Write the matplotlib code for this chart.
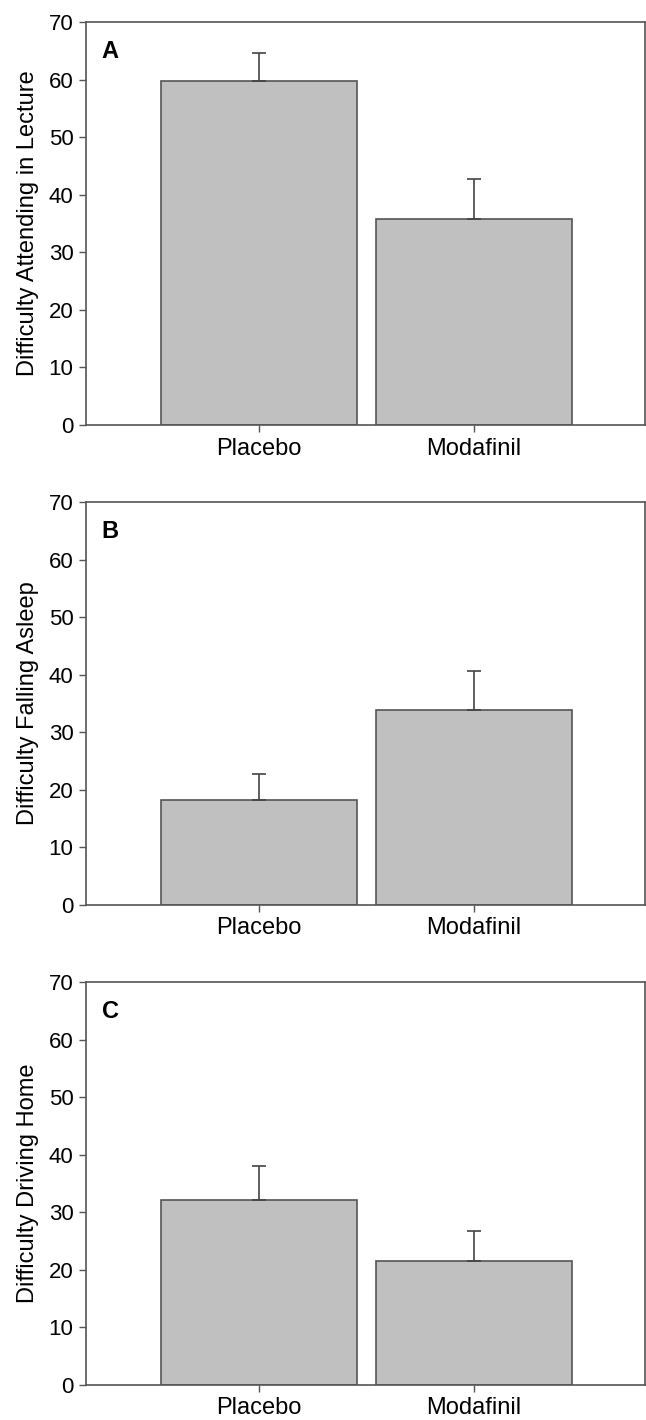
import matplotlib.pyplot as plt

plt.rcParams['font.family'] = ['Liberation Sans', 'DejaVu Sans']

groups = ['Placebo', 'Modafinil']
panel_letters = ['A', 'B', 'C']
ylabels = ['Difficulty Attending in Lecture', 'Difficulty Falling Asleep', 'Difficulty Driving Home']
means_a = [59.7, 35.8]
errs_a = [5.0, 6.9]
means_b = [18.2, 33.8]
errs_b = [4.6, 6.8]
means_c = [32.1, 21.6]
errs_c = [5.9, 5.1]

all_means = [means_a, means_b, means_c]
all_errs = [errs_a, errs_b, errs_c]

fig = plt.figure(figsize=(6.46, 14.2), dpi=100)
edge = '#555555'
pos = [1, 2]
bottoms = [0.7007, 0.3627, 0.02465]

for i in range(3):
    ax = fig.add_axes([0.1331, bottoms[i], 0.8653, 0.2838])
    ax.bar(pos, all_means[i], 0.912, color='#c0c0c0', edgecolor=edge, linewidth=1.2)
    # upward-only error bars
    ax.errorbar(pos, all_means[i], yerr=[[0, 0], all_errs[i]], fmt='none',
                ecolor='#444444', elinewidth=1.2, capsize=5, capthick=1.2)
    ax.set_xlim(0.195, 2.795)
    ax.set_ylim(0, 70)
    ax.set_yticks(range(0, 71, 10))
    ax.set_xticks(pos)
    ax.set_xticklabels(groups)
    ax.tick_params(length=5, width=1, color=edge, pad=4)
    ax.tick_params(axis='y', labelsize=16)
    ax.tick_params(axis='x', labelsize=17)
    for s in ax.spines.values():
        s.set_color(edge)
        s.set_linewidth(1.2)
    ax.set_ylabel(ylabels[i], fontsize=17, labelpad=7)
    ax.text(0.028, 0.955, panel_letters[i], transform=ax.transAxes,
            fontsize=17, fontweight='bold', va='top', ha='left')

fig.savefig('out.png', dpi=100)
